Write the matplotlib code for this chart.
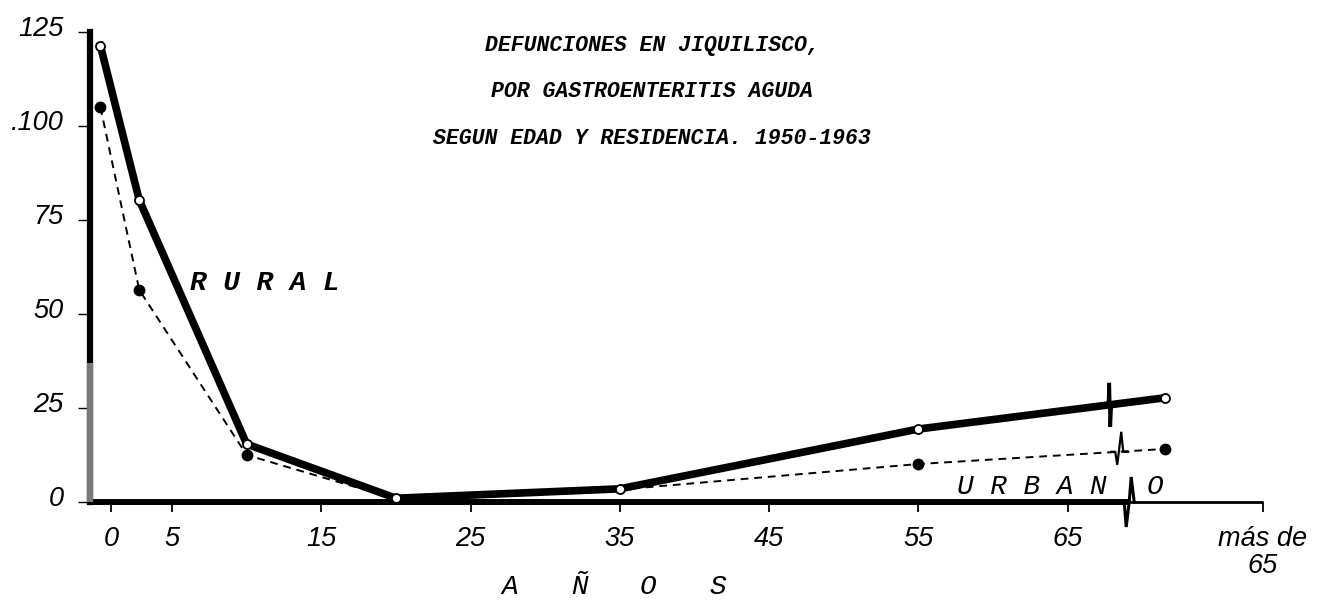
import numpy as np
import matplotlib
matplotlib.use("Agg")
import matplotlib.pyplot as plt
import matplotlib.transforms as mtransforms

# age group positions (years) and deaths
ages = [0.2, 2.8, 10, 20, 35, 55, 71.5]
rural = [121.3, 80.3, 15.4, 1.0, 3.5, 19.4, 27.7]
urbano = [105.0, 56.4, 12.5, 0.8, 3.3, 10.1, 14.1]

xtick_pos = [0.9, 5, 15, 25, 35, 45, 55, 65, 78.1]
xtick_labels = ['0', '5', '15', '25', '35', '45', '55', '65', 'más de\n65']
ytick_pos = [0, 25, 50, 75, 100, 125]
ytick_labels = ['0', '25', '50', '75', '.100', '125']

title_lines = ['DEFUNCIONES EN JIQUILISCO,',
               'POR GASTROENTERITIS AGUDA',
               'SEGUN EDAD Y RESIDENCIA. 1950-1963']

W, H = 1335, 601
mono = 'Liberation Mono'
num_font = 'Liberation Sans'

fig = plt.figure(figsize=(W / 100, H / 100), dpi=100)
fig.patch.set_facecolor('white')

# axes placed by pixel box: x 90..1263, y 32..502
ax = fig.add_axes([90 / W, 1 - 502 / H, (1263 - 90) / W, (502 - 32) / H])
ax.set_xlim(-0.5, 78.1)
ax.set_ylim(0, 125)
ax.set_facecolor('none')

for s in ['top', 'right']:
    ax.spines[s].set_visible(False)
ax.spines['left'].set_linewidth(4.5)
ax.spines['bottom'].set_linewidth(4.3)
ax.spines['bottom'].set_bounds(-0.5, 69.0)

# thin part of x axis after the break
ax.plot([69.0, 78.1], [0, 0], color='black', lw=2.0, clip_on=False, solid_capstyle='butt')
# faded lower part of the y axis (scan look)
ax.plot([-0.5, -0.5], [0, 37], color='#7a7a7a', lw=4.5, clip_on=False,
        solid_capstyle='butt', zorder=3)

# series
ax.plot(ages, rural, color='black', lw=5.5, solid_joinstyle='miter', clip_on=False, zorder=4)
ax.plot(ages, rural, 'o', ms=6.5, mfc='white', mec='black', mew=1.3, clip_on=False, zorder=6)
ax.plot(ages, urbano, color='black', lw=1.4, ls=(0, (4, 3)), clip_on=False, zorder=3)
urb_dots = [0, 1, 2, 5, 6]
ax.plot([ages[i] for i in urb_dots], [urbano[i] for i in urb_dots], 'o', ms=7.5,
        color='black', clip_on=False, zorder=5)

# break marks
px_x = 14.93  # pixels per year
px_y = 3.76   # pixels per death
def brk(x, y, shape, lw):
    xs = [x + dx / px_x for dx, dy in shape]
    ys = [y + dy / px_y for dx, dy in shape]
    ax.plot(xs, ys, color='black', lw=lw, clip_on=False, zorder=7,
            solid_joinstyle='miter')

rb = 67.8
brk(rb, np.interp(rb, ages, rural), [(-1, 0), (0, 22), (1, -22), (2, 0)], 2.6)
ub = 68.4
brk(ub, np.interp(ub, ages, urbano), [(-7, 0), (-3, 0), (-1, -13), (3, 20), (5, 0), (10, 0)], 1.6)
brk(69.0, 0, [(-3, 0), (-1, -25), (2, 0), (4, 25), (7, 0)], 2.2)

# ticks
ax.set_xticks(xtick_pos)
ax.set_xticklabels(xtick_labels, fontsize=19.5, style='italic', family=num_font)
ax.set_yticks(ytick_pos)
ax.set_yticklabels(ytick_labels, fontsize=19.5, style='italic', family=num_font)
ax.tick_params(axis='x', direction='out', length=7, width=1.3, pad=10)
ax.tick_params(axis='y', direction='out', length=9, width=1.0, pad=10)
up = mtransforms.ScaledTranslation(0, 6 / 100, fig.dpi_scale_trans)
for lab in ax.get_yticklabels():
    lab.set_transform(lab.get_transform() + up)
for lab in ax.get_xticklabels():
    lab.set_linespacing(1.05)

# title
for i, line in enumerate(title_lines):
    fig.text(652 / W, 1 - (45 + 46.5 * i) / H, line, ha='center', va='center',
             family=mono, style='italic', weight='bold', fontsize=15.5)

# series labels
fig.text(265 / W, 1 - 283 / H, 'R U R A L', ha='center', va='center',
         family=mono, style='italic', weight='bold', fontsize=20)
fig.text(1032 / W, 1 - 487 / H, 'U R B A N', ha='center', va='center',
         family=mono, style='italic', fontsize=20)
fig.text(1155 / W, 1 - 487 / H, 'O', ha='center', va='center',
         family=mono, style='italic', fontsize=20)
for ch, px in zip('AÑOS', [510, 580, 648, 718]):
    fig.text(px / W, 1 - 587 / H, ch, ha='center', va='center',
             family=mono, style='italic', fontsize=20)

fig.savefig('out.png', dpi=100, facecolor='white')
